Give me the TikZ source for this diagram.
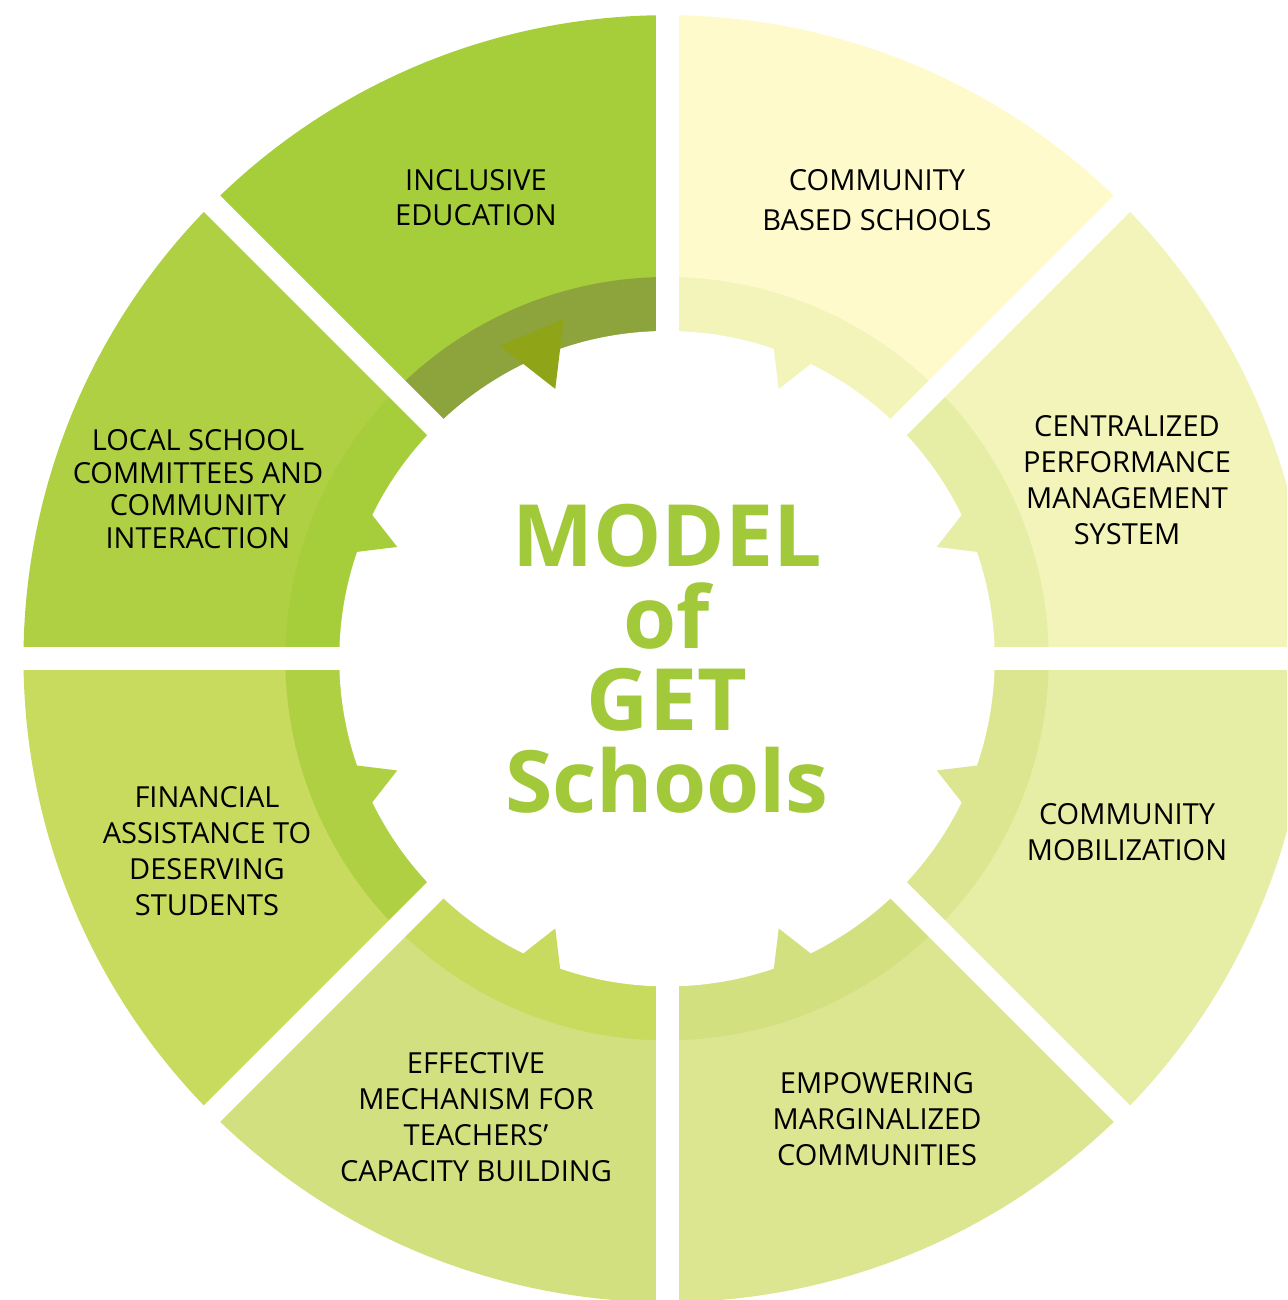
\documentclass[tikz,border=0pt]{standalone}
\usepackage{fontspec}
\setmainfont{Open Sans}
\usepackage{xcolor}
\usepackage{tikz}
\definecolor{cbs}{HTML}{FEFACC}
\definecolor{cpms}{HTML}{F2F4BA}
\definecolor{mobil}{HTML}{E6EDA5}
\definecolor{empow}{HTML}{DCE690}
\definecolor{effect}{HTML}{D3E080}
\definecolor{finance}{HTML}{C8DB5E}
\definecolor{local}{HTML}{B0D044}
\definecolor{inclus}{HTML}{A6CE3A}
\definecolor{inclring}{HTML}{8DA33C}
\definecolor{incltooth}{HTML}{90A418}
\definecolor{titlegreen}{HTML}{A1C93A}

\begin{document}
\begin{tikzpicture}[x=0.5pt, y=0.5pt,
        label/.style={black, align=center, font=\fontsize{14.5}{18}\selectfont},
        heading/.style={titlegreen, align=center, font=\fontsize{43}{41}\selectfont\bfseries},
        gap/.style={white, line width=11.5pt}]
        \useasboundingbox (-667,-641.3) rectangle (620,658.7);
        \clip (-667,-641.3) rectangle (620,658.7);

        % outer sectors
        \fill[cbs] (0,0) -- (45:643.5) arc[start angle=45, end angle=90, radius=643.5] -- cycle;
        \fill[cpms] (0,0) -- (0:643.5) arc[start angle=0, end angle=45, radius=643.5] -- cycle;
        \fill[mobil] (0,0) -- (-45:643.5) arc[start angle=-45, end angle=0, radius=643.5] -- cycle;
        \fill[empow] (0,0) -- (-90:643.5) arc[start angle=-90, end angle=-45, radius=643.5] -- cycle;
        \fill[effect] (0,0) -- (-135:643.5) arc[start angle=-135, end angle=-90, radius=643.5] -- cycle;
        \fill[finance] (0,0) -- (180:643.5) arc[start angle=180, end angle=225, radius=643.5] -- cycle;
        \fill[local] (0,0) -- (135:643.5) arc[start angle=135, end angle=180, radius=643.5] -- cycle;
        \fill[inclus] (0,0) -- (90:643.5) arc[start angle=90, end angle=135, radius=643.5] -- cycle;

        % inner ring
        \fill[cpms] (0,0) -- (45:381.7) arc[start angle=45, end angle=90, radius=381.7] -- cycle;
        \fill[mobil] (0,0) -- (0:381.7) arc[start angle=0, end angle=45, radius=381.7] -- cycle;
        \fill[empow] (0,0) -- (-45:381.7) arc[start angle=-45, end angle=0, radius=381.7] -- cycle;
        \fill[effect] (0,0) -- (-90:381.7) arc[start angle=-90, end angle=-45, radius=381.7] -- cycle;
        \fill[finance] (0,0) -- (-135:381.7) arc[start angle=-135, end angle=-90, radius=381.7] -- cycle;
        \fill[local] (0,0) -- (180:381.7) arc[start angle=180, end angle=225, radius=381.7] -- cycle;
        \fill[inclus] (0,0) -- (135:381.7) arc[start angle=135, end angle=180, radius=381.7] -- cycle;
        \fill[inclring] (0,0) -- (90:381.7) arc[start angle=90, end angle=135, radius=381.7] -- cycle;

        \fill[white] (0,0) circle[radius=327.7];

        % teeth
        \fill[cpms] (67.5:292) -- (61.9:355) -- (73.1:355) -- cycle;
        \fill[mobil] (22.5:292) -- (16.9:355) -- (28.1:355) -- cycle;
        \fill[empow] (-22.5:292) -- (-28.1:355) -- (-16.9:355) -- cycle;
        \fill[effect] (-67.5:292) -- (-73.1:355) -- (-61.9:355) -- cycle;
        \fill[finance] (-112.5:292) -- (-118.1:355) -- (-106.9:355) -- cycle;
        \fill[local] (-157.5:292) -- (-163.1:355) -- (-151.9:355) -- cycle;
        \fill[inclus] (157.5:292) -- (151.9:355) -- (163.1:355) -- cycle;
        \fill[incltooth] (112.5:292) -- (106.9:355) -- (118.1:355) -- cycle;

        % gaps
        \draw[gap] (0:700) -- (180:700);
        \draw[gap] (45:700) -- (225:700);
        \draw[gap] (90:700) -- (270:700);
        \draw[gap] (135:700) -- (315:700);

        \node[label, font=\fontsize{14.5}{17.5}\selectfont] (inclusive) at (-191,460.7) {INCLUSIVE\\EDUCATION};
        \node[label, font=\fontsize{14.5}{20}\selectfont] (based) at (210,458.7) {COMMUNITY\\BASED SCHOOLS};
        \node[label] (central) at (460,178.7) {CENTRALIZED\\PERFORMANCE\\MANAGEMENT\\SYSTEM};
        \node[label] (mobilize) at (460,-173.3) {COMMUNITY\\MOBILIZATION};
        \node[label] (empower) at (210,-460.3) {EMPOWERING\\MARGINALIZED\\COMMUNITIES};
        \node[label] (mechanism) at (-191,-458.3) {EFFECTIVE\\MECHANISM FOR\\TEACHERS’\\CAPACITY BUILDING};
        \node[label] (assist) at (-460,-192.3) {FINANCIAL\\ASSISTANCE TO\\DESERVING\\STUDENTS};
        \node[label, font=\fontsize{14.5}{16.3}\selectfont] (committee) at (-469,169.7) {LOCAL SCHOOL\\COMMITTEES AND\\COMMUNITY\\INTERACTION};

        \node[heading] (model) at (0,0) {MODEL\\of\\GET\\Schools};
    \end{tikzpicture}
\end{document}
